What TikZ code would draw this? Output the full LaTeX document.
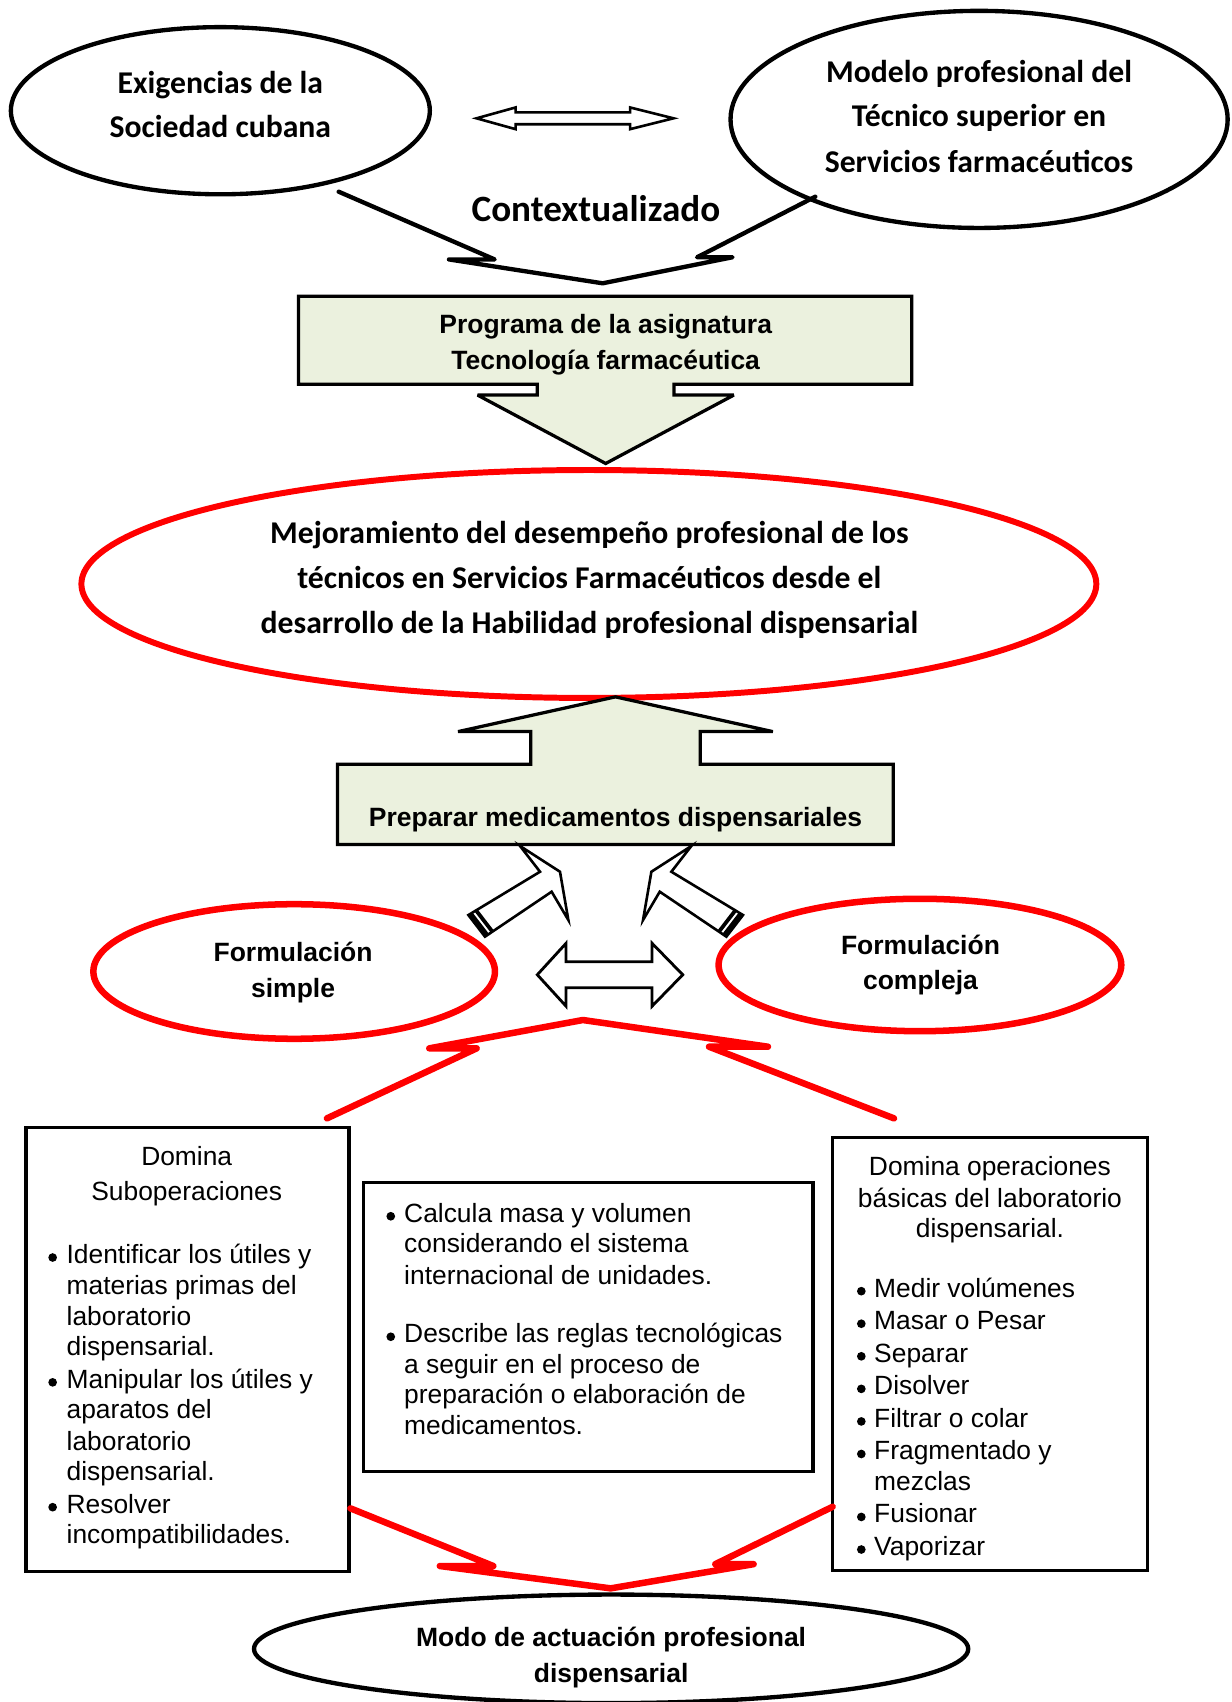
\documentclass[tikz,border=0pt]{standalone}
\usepackage{fontspec}
\setmainfont{Liberation Sans}
\newfontfamily\carlitof{Carlito}
\newfontfamily\arialf{Liberation Sans}
\usetikzlibrary{shapes.geometric,calc}
\definecolor{paleg}{HTML}{EBF1DE}
\tikzset{
  blkell/.style={ellipse, draw=black, line width=2pt, inner sep=0pt, outer sep=0pt},
  redell/.style={ellipse, draw=red, line width=3pt, inner sep=0pt, outer sep=0pt},
  calb/.style={font=\carlitof\bfseries\fontsize{14.6}{17}\selectfont, inner sep=0pt, anchor=base},
  calbig/.style={font=\carlitof\bfseries\fontsize{17.1}{20}\selectfont, inner sep=0pt, anchor=base},
  arb/.style={font=\arialf\bfseries\fontsize{12.2}{14}\selectfont, inner sep=0pt, anchor=base},
  arc/.style={font=\arialf\fontsize{12.15}{14}\selectfont, inner sep=0pt, anchor=base},
  arl/.style={font=\arialf\fontsize{12.15}{14}\selectfont, inner sep=0pt, anchor=base west},
  bul/.style={circle, fill=black, inner sep=0pt, minimum size=4pt},
  redline/.style={draw=red, line width=3pt, line cap=round, line join=round},
  blkline/.style={draw=black, line width=2pt, line cap=round, line join=round},
  blockarrow/.style={draw=black, line width=1.2pt, fill=white},
  greenshape/.style={draw=black, line width=1.5pt, fill=paleg, miter limit=4},
  txtbox/.style={rectangle, draw=black, line width=1.45pt, inner sep=0pt},
}
\begin{document}
\begin{tikzpicture}[x=0.5pt,y=-0.5pt]
\useasboundingbox (0,0) rectangle (1135,1568);

% ---------- top ellipses ----------
\node[blkell, minimum width=193pt, minimum height=77pt] (exig) at (203,102) {};
\node[blkell, minimum width=229pt, minimum height=100pt] (modelo) at (902,110) {};
\node[calb] (texig1) at (203,86) {Exigencias de la};
\node[calb] (texig2) at (203,127) {Sociedad cubana};
\node[calb] (tmod1) at (902,76) {Modelo profesional del};
\node[calb] (tmod2) at (902,117) {Técnico superior en};
\node[calb] (tmod3) at (902,159) {Servicios farmacéuticos};

% top double arrow
\draw[blockarrow, line width=1.2pt] (439,109) -- (475,99) -- (475,103.5) -- (580.5,103.5) -- (580.5,99) -- (620.5,109)
  -- (580.5,119) -- (580.5,114.5) -- (475,114.5) -- (475,119) -- cycle;

\node[calbig] (tctx) at (549,204) {Contextualizado};

% converging black lines
\coordinate (k1) at (312,176.6);
\coordinate (k2) at (455.7,239);
\coordinate (k3) at (413.6,239);
\coordinate (k4) at (555.2,261);
\coordinate (k5) at (674.9,237);
\coordinate (k6) at (642.2,237);
\coordinate (k7) at (751.1,181.2);
\draw[blkline] (k1) -- (k2) -- (k3) -- (k4) -- (k5) -- (k6) -- (k7);

% ---------- Programa callout ----------
\draw[greenshape] (275,273) -- (840,273) -- (840,354) -- (621,354) -- (621,364) -- (676,364) -- (558,427)
  -- (440,364) -- (495,364) -- (495,354) -- (275,354) -- cycle;
\node[arb] (tprog1) at (558,307) {Programa de la asignatura};
\node[arb] (tprog2) at (558,340) {Tecnología farmacéutica};

% ---------- Mejoramiento ----------
\node[redell, line width=2.75pt, minimum width=467.5pt, minimum height=105pt] (mejor) at (542.5,538) {};
\node[calb] (tmej1) at (543,501) {Mejoramiento del desempeño profesional de los};
\node[calb] (tmej2) at (543,542) {técnicos en Servicios Farmacéuticos desde el};
\node[calb] (tmej3) at (543,584) {desarrollo de la Habilidad profesional dispensarial};

% ---------- Preparar callout ----------
\draw[greenshape] (311,704) -- (489,704) -- (489,674) -- (422,674) -- (567,642) -- (712,674) -- (645,674)
  -- (645,704) -- (823,704) -- (823,778) -- (311,778) -- cycle;
\node[arb] (tprep) at (567,761) {Preparar medicamentos dispensariales};

% ---------- striped arrows ----------
\begin{scope}
  \draw[blockarrow] (479.1,779.4) -- (515.9,803.1) -- (523.6,847.6) -- (508.2,821.5) -- (446.8,862.9)
    -- (431.5,843.0) -- (497.5,803.1) -- cycle;
  \fill[black] (431.5,843.0) -- (435.29,840.58) -- (450.59,860.48) -- (446.8,862.9) -- cycle;
  \fill[black] (436.98,839.50) -- (439.93,837.62) -- (455.23,857.52) -- (452.28,859.40) -- cycle;
\end{scope}
\begin{scope}[shift={(1116,0)}, xscale=-1]
  \draw[blockarrow] (479.1,779.4) -- (515.9,803.1) -- (523.6,847.6) -- (508.2,821.5) -- (446.8,862.9)
    -- (431.5,843.0) -- (497.5,803.1) -- cycle;
  \fill[black] (431.5,843.0) -- (435.29,840.58) -- (450.59,860.48) -- (446.8,862.9) -- cycle;
  \fill[black] (436.98,839.50) -- (439.93,837.62) -- (455.23,857.52) -- (452.28,859.40) -- cycle;
\end{scope}

% ---------- Formulacion ellipses ----------
\node[redell, minimum width=185pt, minimum height=62pt] (fsimple) at (271,895) {};
\node[redell, minimum width=185.5pt, minimum height=61pt] (fcompleja) at (847.5,889) {};
\node[arb] (tfs1) at (270,886) {Formulación};
\node[arb] (tfs2) at (270,919) {simple};
\node[arb] (tfc1) at (848,879) {Formulación};
\node[arb] (tfc2) at (848,912) {compleja};

% lower double arrow
\draw[blockarrow, line width=1.3pt] (495,898) -- (521.5,869) -- (521.5,886) -- (600.7,886) -- (600.7,869) -- (629,898)
  -- (600.7,927) -- (600.7,910) -- (521.5,910) -- (521.5,927) -- cycle;

% red converging lines (top)
\coordinate (r1) at (301.2,1030.3);
\coordinate (r2) at (439.1,965.8);
\coordinate (r3) at (395.5,965.8);
\coordinate (r4) at (537,939.7);
\coordinate (r5) at (707.5,964.3);
\coordinate (r6) at (653.2,964.3);
\coordinate (r7) at (823.6,1030.3);
\draw[redline] (r1) -- (r2) -- (r3) -- (r4) -- (r5) -- (r6) -- (r7);

% ---------- text boxes ----------
\node[txtbox, minimum width=148.75pt, minimum height=204.5pt] (boxL) at (172.75,1243.5) {};
\node[txtbox, minimum width=207pt, minimum height=133.25pt] (boxM) at (542,1222.75) {};
\node[txtbox, minimum width=145pt, minimum height=199.5pt] (boxR) at (912,1247.5) {};

\node[arc] (tdom1) at (172,1074) {Domina};
\node[arc] (tdom2) at (172,1106) {Suboperaciones};
\foreach \yy/\txt [count=\i] in {1164/Identificar los útiles y, 1193/materias primas del, 1221/laboratorio,
  1249/dispensarial., 1279/Manipular los útiles y, 1307/aparatos del, 1336/laboratorio,
  1364/dispensarial., 1394/Resolver, 1422/incompatibilidades.}
  \node[arl] (lt\i) at (61,\yy) {\txt};
\foreach \yy [count=\i] in {1164,1279,1394}
  \node[bul] (lb\i) at (48.5,\yy-5.5) {};

\foreach \yy/\txt [count=\i] in {1126/Calcula masa y volumen, 1154/considerando el sistema,
  1183/internacional de unidades., 1237/Describe las reglas tecnológicas, 1265/a seguir en el proceso de,
  1293/preparación o elaboración de, 1322/medicamentos.}
  \node[arl] (mt\i) at (372,\yy) {\txt};
\foreach \yy [count=\i] in {1126,1237}
  \node[bul] (mb\i) at (360,\yy-5.5) {};

\node[arc] (tro1) at (912,1083) {Domina operaciones};
\node[arc] (tro2) at (912,1112) {básicas del laboratorio};
\node[arc] (tro3) at (912,1140) {dispensarial.};
\foreach \yy/\txt [count=\i] in {1195/Medir volúmenes, 1225/Masar o Pesar, 1255/Separar, 1285/Disolver,
  1315/Filtrar o colar, 1345/Fragmentado y, 1373/mezclas, 1403/Fusionar, 1433/Vaporizar}
  \node[arl] (rt\i) at (805,\yy) {\txt};
\foreach \yy [count=\i] in {1195,1225,1255,1285,1315,1345,1403,1433}
  \node[bul] (rb\i) at (793.5,\yy-5.5) {};

% red converging lines (bottom)
\coordinate (s1) at (322.9,1389.6);
\coordinate (s2) at (454.5,1442.7);
\coordinate (s3) at (405.2,1442.7);
\coordinate (s4) at (562.6,1463.3);
\coordinate (s5) at (694.3,1441);
\coordinate (s6) at (659,1441);
\coordinate (s7) at (767.1,1388.1);
\draw[redline] (s1) -- (s2) -- (s3) -- (s4) -- (s5) -- (s6) -- (s7);

% ---------- bottom ellipse ----------
\node[blkell, minimum width=329pt, minimum height=50pt] (modo) at (563,1519) {};
\node[arb] (tmodo1) at (563,1517) {Modo de actuación profesional};
\node[arb] (tmodo2) at (563,1550) {dispensarial};
\end{tikzpicture}
\end{document}
